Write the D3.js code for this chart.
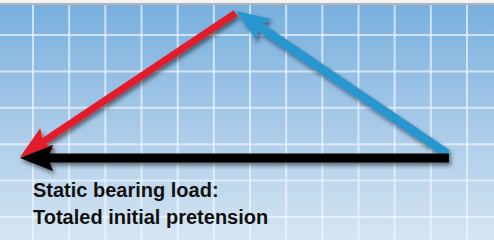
<!DOCTYPE html>
<html>
<head>
<meta charset="utf-8">
<script src="https://cdn.jsdelivr.net/npm/d3@7"></script>
<style>
  html, body { margin: 0; padding: 0; background: #fff; }
  svg { display: block; }
</style>
</head>
<body>
<div id="chart"></div>
<script>
// grid units (one cell = 1)
var gridCols = d3.range(0, 13);
var gridRows = d3.range(0, 6);

// force vectors, in grid units
var vectorNames = ["Initial pretension", "Static bearing load", "Totaled initial pretension"];
var vectorFrom  = [[5.60, -0.60], [11.45, 3.26], [11.50, 3.38]];
var vectorTo    = [[-0.36, 3.36], [5.62, -0.66], [-0.36, 3.38]];
var vectorColors = ["#e21f2b", "#2996cf", "#000000"];

var labelLines = ["Static bearing load:", "Totaled initial pretension"];

var width = 494;
var height = 240;

var svg = d3.select("#chart")
  .append("svg")
  .attr("width", width)
  .attr("height", height);

var x = d3.scaleLinear().domain([0, 12]).range([33, 467]);
var y = d3.scaleLinear().domain([0, 5]).range([35, 217]);

var defs = svg.append("defs");

var grad = defs.append("linearGradient")
  .attr("id", "bg")
  .attr("x1", 0).attr("y1", 0).attr("x2", 0).attr("y2", 1);
grad.append("stop").attr("offset", "0%").attr("stop-color", "#78b0de");
grad.append("stop").attr("offset", "50%").attr("stop-color", "#a7c9e8");
grad.append("stop").attr("offset", "100%").attr("stop-color", "#d6e5f2");

var shadow = defs.append("filter")
  .attr("id", "shadow")
  .attr("x", "-20%").attr("y", "-20%")
  .attr("width", "140%").attr("height", "140%");
shadow.append("feDropShadow")
  .attr("dx", 2).attr("dy", 3)
  .attr("stdDeviation", 2.2)
  .attr("flood-color", "#000")
  .attr("flood-opacity", 0.5);

var glow = defs.append("filter").attr("id", "glow");
glow.append("feGaussianBlur").attr("stdDeviation", 0.5);

// background
svg.append("rect")
  .attr("width", width).attr("height", height)
  .attr("fill", "#f4f4f4");
svg.append("rect")
  .attr("y", 5).attr("width", width).attr("height", height - 5)
  .attr("fill", "url(#bg)");
svg.append("rect")
  .attr("y", 3).attr("width", width).attr("height", 2)
  .attr("fill", "#b4b4b4");

// grid
var grid = svg.append("g").attr("filter", "url(#glow)");

grid.selectAll("line.v")
  .data(gridCols)
  .enter().append("line")
  .attr("class", "v")
  .attr("x1", function(d) { return x(d); })
  .attr("x2", function(d) { return x(d); })
  .attr("y1", 5)
  .attr("y2", height)
  .attr("stroke", "#eef6ff")
  .attr("stroke-opacity", 0.7)
  .attr("stroke-width", 2);

grid.selectAll("line.h")
  .data(gridRows)
  .enter().append("line")
  .attr("class", "h")
  .attr("x1", 0)
  .attr("x2", width)
  .attr("y1", function(d) { return y(d); })
  .attr("y2", function(d) { return y(d); })
  .attr("stroke", "#eef6ff")
  .attr("stroke-opacity", 0.7)
  .attr("stroke-width", 2);

// arrows
var headLen = 33;
var headHalf = 13;
var notch = 5;
var lineWidths = [7, 9, 9];

var arrows = svg.append("g").attr("filter", "url(#shadow)");

vectorNames.forEach(function(name, i) {
  var x0 = x(vectorFrom[i][0]), y0 = y(vectorFrom[i][1]);
  var x1 = x(vectorTo[i][0]), y1 = y(vectorTo[i][1]);
  var dx = x1 - x0, dy = y1 - y0;
  var len = Math.sqrt(dx * dx + dy * dy);
  var ux = dx / len, uy = dy / len;
  var px = -uy, py = ux;

  var bx = x1 - ux * headLen, by = y1 - uy * headLen;
  var nx = x1 - ux * (headLen - notch), ny = y1 - uy * (headLen - notch);

  var g = arrows.append("g").attr("class", "arrow");

  g.append("line")
    .attr("x1", x0).attr("y1", y0)
    .attr("x2", nx).attr("y2", ny)
    .attr("stroke", vectorColors[i])
    .attr("stroke-width", lineWidths[i]);

  g.append("path")
    .attr("d", d3.line()([
      [x1, y1],
      [bx + px * headHalf, by + py * headHalf],
      [nx, ny],
      [bx - px * headHalf, by - py * headHalf]
    ]) + "Z")
    .attr("fill", vectorColors[i]);
});

// label
svg.append("g")
  .selectAll("text")
  .data(labelLines)
  .enter().append("text")
  .attr("x", 33)
  .attr("y", function(d, i) { return 196.5 + i * 27; })
  .attr("font-family", "'Liberation Sans', Arial, sans-serif")
  .attr("font-weight", "bold")
  .attr("font-size", "20px")
  .attr("fill", "#111")
  .text(function(d) { return d; });
</script>
</body>
</html>
